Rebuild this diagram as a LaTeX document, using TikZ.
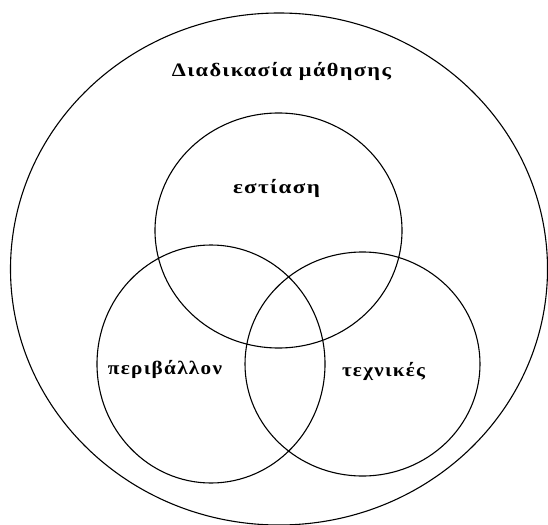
\documentclass[tikz,border=0pt]{standalone}
\usepackage{fontspec}
\setmainfont{Liberation Serif}
\newfontfamily\lblfont[LetterSpace=6]{Liberation Serif Bold}
\usepackage{graphicx}
\usetikzlibrary{shapes.geometric}
\newcommand{\fitw}[2]{\resizebox{#1}{\height}{#2}}
\begin{document}
\begin{tikzpicture}[x=1pt,y=-1pt,
  ring/.style={draw=black, line width=1.1pt, ellipse, inner sep=0pt, outer sep=0pt},
  lbl/.style={font=\lblfont\fontsize{19}{22}\selectfont, inner sep=0pt, anchor=base}]
\useasboundingbox (0,0) rectangle (548,524);
\clip (0,0) rectangle (548,524);
\fill[white] (0,0) rectangle (548,524);
\node[ring, minimum width=537pt, minimum height=512pt] (outer) at (279,269) {};
\node[ring, minimum width=247pt, minimum height=235pt] (focus) at (278.5,230.5) {};
\node[ring, minimum width=228pt, minimum height=238pt] (env) at (211,364) {};
\node[ring, minimum width=235pt, minimum height=224pt] (tech) at (362.5,364) {};
\node[lbl] (title) at (281.5,77) {\fitw{219pt}{Διαδικασία μάθησης}};
\node[lbl] (t1) at (276.5,193) {\fitw{87pt}{εστίαση}};
\node[lbl] (t2) at (165,374) {\fitw{114pt}{περιβάλλον}};
\node[lbl] (t3) at (383.5,376) {\fitw{83pt}{τεχνικές}};
\end{tikzpicture}
\end{document}
